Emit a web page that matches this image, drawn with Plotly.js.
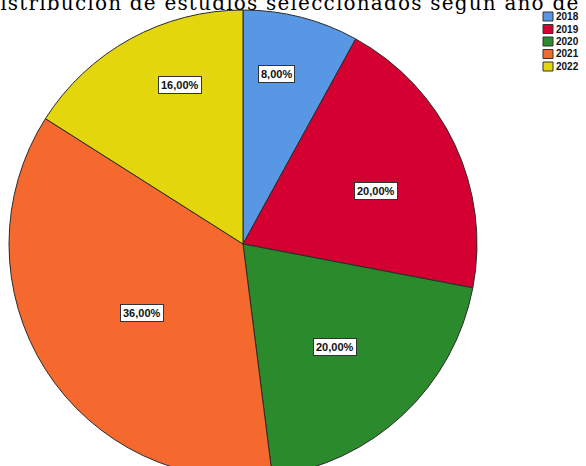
<!DOCTYPE html>
<html>
<head>
<meta charset="utf-8">
<script src="https://cdn.plot.ly/plotly-3.0.1.min.js"></script>
<style>
html,body{margin:0;padding:0;overflow:hidden;background:#fff;width:586px;height:466px;}
#chart{width:586px;height:490px;}
</style>
</head>
<body>
<div id="chart"></div>
<script>
// ---- data ----
const categories = ["2018", "2019", "2020", "2021", "2022"];
const counts = [2, 5, 5, 9, 4];
const colors = ["#5897E4", "#D50032", "#2B8A2B", "#F5692F", "#E3D60C"];
const titleText = "Distribución de estudios seleccionados según año de publicación";

// ---- layout geometry ----
const W = 586, H = 490;
const cxPx = 243, cyPx = 244, rPx = 234;
const domX = [(cxPx - rPx) / W, (cxPx + rPx) / W];
const domY = [1 - (cyPx + rPx) / H, 1 - (cyPx - rPx) / H];
const px = x => x / W;
const py = y => 1 - y / H;

const total = counts.reduce((a, b) => a + b, 0);
const labelFrac = [0.74, 0.61, 0.59, 0.52, 0.73];
const labelAngAdj = [-3.4, 3.5, 1.4, -1.9, 7.3];

const annotations = [];
let acc = 0;
counts.forEach((c, i) => {
  const mid = (acc + c / 2) / total * 360 + labelAngAdj[i];
  acc += c;
  const a = mid * Math.PI / 180;
  const lx = cxPx + rPx * labelFrac[i] * Math.sin(a);
  const ly = cyPx - rPx * labelFrac[i] * Math.cos(a);
  annotations.push({
    xref: "paper", yref: "paper", x: px(lx), y: py(ly),
    xanchor: "center", yanchor: "middle", showarrow: false,
    text: (c / total * 100).toFixed(2).replace(".", ",") + "%",
    font: {family: "Liberation Sans, Arial, sans-serif", size: 11, color: "#111", weight: "bold"},
    bgcolor: "#ffffff", bordercolor: "#333333", borderwidth: 1, borderpad: 2
  });
});

// title: fit visible span "istribución ... año de" to x = 0 .. 578
const titleFont = "DejaVu Serif";
const titleSize = 20;
const cv = document.createElement("canvas").getContext("2d");
cv.font = titleSize + "px '" + titleFont + "'";
const prefix = "Distribución de estudios seleccionados según año de";
const nP = prefix.length;
const w0 = cv.measureText(prefix).width;
const advD = cv.measureText("D").width;
const spacing = (578 - w0 + advD) / (nP - 2);
const titleLeft = -(advD + spacing);

const titleIndex = annotations.length;
annotations.push({
  xref: "paper", yref: "paper", x: px(titleLeft), y: py(3.5),
  xanchor: "left", yanchor: "middle", align: "left", showarrow: false,
  borderwidth: 0, borderpad: 0,
  text: titleText,
  font: {family: titleFont + ", serif", size: titleSize, color: "#000"}
});
const st = document.createElement("style");
st.textContent = 'g.annotation[data-index="' + titleIndex + '"] text{letter-spacing:' + spacing.toFixed(3) + 'px;}';
document.head.appendChild(st);

// legend
const shapes = [];
categories.forEach((cat, i) => {
  const y0 = 12 + 12.5 * i;
  shapes.push({
    type: "rect", xref: "paper", yref: "paper",
    x0: px(543), x1: px(553), y0: py(y0), y1: py(y0 + 9),
    fillcolor: colors[i], line: {color: "#333333", width: 1}
  });
  annotations.push({
    xref: "paper", yref: "paper", x: px(554), y: py(y0 + 4.5),
    xanchor: "left", yanchor: "middle", showarrow: false,
    text: cat,
    font: {family: "Liberation Sans Narrow, Liberation Sans, Arial, sans-serif", size: 10, color: "#111", weight: "bold"}
  });
});

const trace = {
  type: "pie",
  labels: categories,
  values: counts,
  sort: false,
  direction: "clockwise",
  rotation: 0,
  marker: {colors: colors, line: {color: "#2b2b2b", width: 1}},
  textinfo: "none",
  hoverinfo: "none",
  domain: {x: domX, y: domY}
};

Plotly.newPlot("chart", [trace], {
  width: W, height: H,
  margin: {l: 0, r: 0, t: 0, b: 0},
  showlegend: false,
  paper_bgcolor: "#ffffff",
  annotations: annotations,
  shapes: shapes
}, {displayModeBar: false, staticPlot: true});
</script>
</body>
</html>
